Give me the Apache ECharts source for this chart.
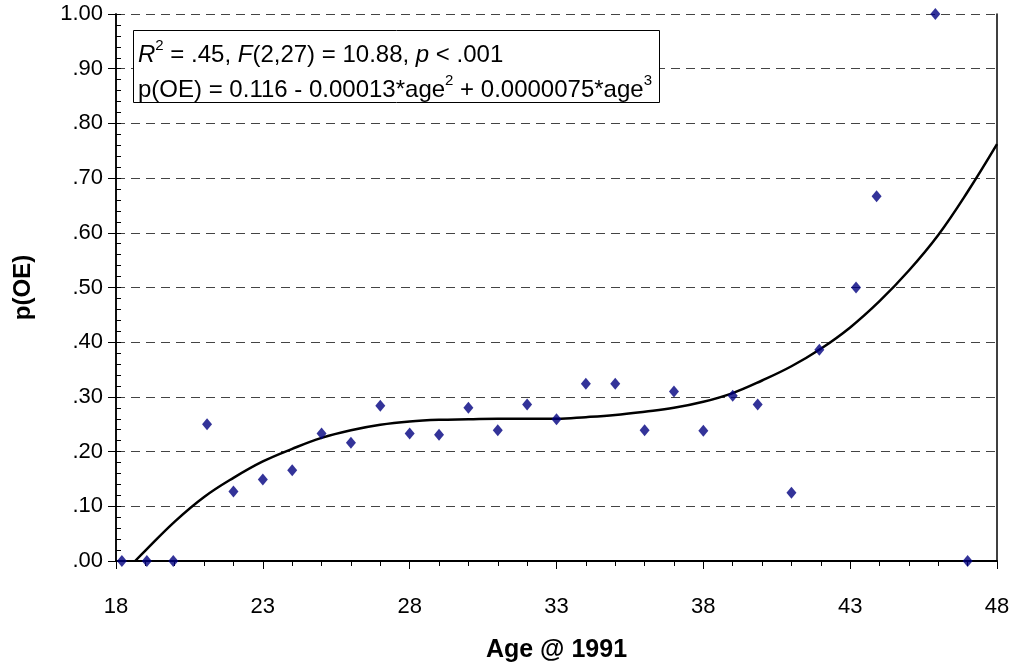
<!DOCTYPE html>
<html>
<head>
<meta charset="utf-8">
<script src="https://cdn.jsdelivr.net/npm/echarts@6/dist/echarts.min.js"></script>
<style>
html,body{margin:0;padding:0;background:#fff;}
#chart{width:1015px;height:672px;}
</style>
</head>
<body>
<div id="chart"></div>
<script>
// Observed points (age, p(OE))
const ages = [18.2, 19.05, 19.95, 21.1, 22.0, 23.0, 24.0, 25.0, 26.0, 27.0, 28.0, 29.0, 30.0, 31.0, 32.0, 33.0, 34.0, 35.0, 36.0, 37.0, 38.0, 39.0, 39.85, 41.0, 41.95, 43.2, 43.9, 45.9, 47.0];
const pOE = [0, 0, 0, 0.250, 0.127, 0.149, 0.166, 0.233, 0.216, 0.284, 0.233, 0.231, 0.280, 0.239, 0.286, 0.259, 0.324, 0.324, 0.239, 0.310, 0.238, 0.302, 0.286, 0.125, 0.386, 0.500, 0.667, 1.000, 0];

// Cubic trend line
const trendAges = [18.65, 19, 20, 21, 22, 23, 24, 25, 26, 27, 28, 29, 30, 31, 32, 33, 34, 35, 36, 37, 38, 39, 40, 41, 42, 43, 44, 45, 46, 47, 48];
const trendValues = [0, 0.019, 0.072, 0.117, 0.152, 0.182, 0.205, 0.225, 0.239, 0.249, 0.255, 0.258, 0.259, 0.260, 0.260, 0.260, 0.263, 0.267, 0.273, 0.280, 0.291, 0.307, 0.330, 0.356, 0.388, 0.427, 0.475, 0.531, 0.596, 0.675, 0.762];

const xTicks = [18, 23, 28, 33, 38, 43, 48];
const yTickLabels = ['.00', '.10', '.20', '.30', '.40', '.50', '.60', '.70', '.80', '.90', '1.00'];

const FONT = 'Liberation Sans, Arial, sans-serif';
const chart = echarts.init(document.getElementById('chart'), null, {renderer: 'canvas'});

const scatterData = ages.map((a, i) => [a, pOE[i]]);
const trendData = trendAges.map((a, i) => [a, trendValues[i]]);

chart.setOption({
  backgroundColor: '#fff',
  animation: false,
  textStyle: {fontFamily: FONT},
  title: {
    left: 133, top: 30,
    borderColor: '#000', borderWidth: 1,
    backgroundColor: '#fff',
    padding: [8, 8, 0, 5],
    text: '{i|R}{sup|2}{n| = .45, }{i|F}{n|(2,27) = 10.88, }{i|p}{n| < .001}\n{n|p(OE) = 0.116 - 0.00013*age}{sup|2}{n| + 0.0000075*age}{sup|3}',
    textStyle: {
      fontFamily: FONT, fontSize: 24, fontWeight: 'normal', color: '#000',
      rich: {
        n: {fontFamily: FONT, fontSize: 24, color: '#000', lineHeight: 35},
        i: {fontFamily: FONT, fontSize: 24, color: '#000', fontStyle: 'italic', lineHeight: 35},
        sup: {fontFamily: FONT, fontSize: 15, color: '#000', verticalAlign: 'top', lineHeight: 22}
      }
    }
  },
  grid: {left: 116, right: 18, top: 14, bottom: 111, containLabel: false, outerBoundsMode: 'none'},
  xAxis: {
    type: 'value', min: 18, max: 48, interval: 5,
    name: 'Age @ 1991', nameLocation: 'middle', nameGap: 77,
    nameTextStyle: {fontFamily: FONT, fontSize: 25, fontWeight: 'bold', color: '#000'},
    axisLine: {show: true, onZero: false, lineStyle: {color: '#000', width: 2}},
    axisTick: {show: true, length: 8, lineStyle: {color: '#000', width: 1}},
    minorTick: {show: true, splitNumber: 5, length: 5, lineStyle: {color: '#000', width: 1}},
    axisLabel: {fontFamily: FONT, fontSize: 22, color: '#000', margin: 35,
      formatter: v => xTicks.indexOf(v) >= 0 ? String(v) : ''},
    splitLine: {show: false}
  },
  yAxis: [
    {
      type: 'value', min: 0, max: 1, interval: 0.1,
      name: 'p(OE)', nameLocation: 'middle', nameGap: 81, nameRotate: 90,
      nameTextStyle: {fontFamily: FONT, fontSize: 24, fontWeight: 'bold', color: '#000'},
      axisLine: {show: true, lineStyle: {color: '#000', width: 1.5}},
      axisTick: {show: true, length: 8, lineStyle: {color: '#000', width: 1}},
      axisLabel: {fontFamily: FONT, fontSize: 22, color: '#000', margin: 13,
        formatter: v => yTickLabels[Math.round(v * 10)]},
      splitLine: {show: true, lineStyle: {color: '#444', width: 1, type: [9, 6]}}
    },
    {
      type: 'value', min: 0, max: 1, interval: 0.02, position: 'left',
      axisLine: {show: true, lineStyle: {color: '#000', width: 1.5}},
      axisTick: {show: true, inside: true, length: 5, lineStyle: {color: '#000', width: 1}},
      axisLabel: {show: false},
      splitLine: {show: false}
    },
    {
      type: 'value', min: 0, max: 1, position: 'right',
      axisLine: {show: true, lineStyle: {color: '#000', width: 1.5}},
      axisTick: {show: false},
      axisLabel: {show: false},
      splitLine: {show: false}
    }
  ],
  series: [
    {
      type: 'line', yAxisIndex: 0, data: trendData, smooth: 0.4,
      showSymbol: false, symbol: 'none',
      lineStyle: {color: '#000', width: 2.5}, z: 3
    },
    {
      type: 'scatter', yAxisIndex: 0, data: scatterData,
      symbol: 'diamond', symbolSize: [10, 12],
      itemStyle: {color: '#000080'}, z: 4
    }
  ]
});
</script>
</body>
</html>
